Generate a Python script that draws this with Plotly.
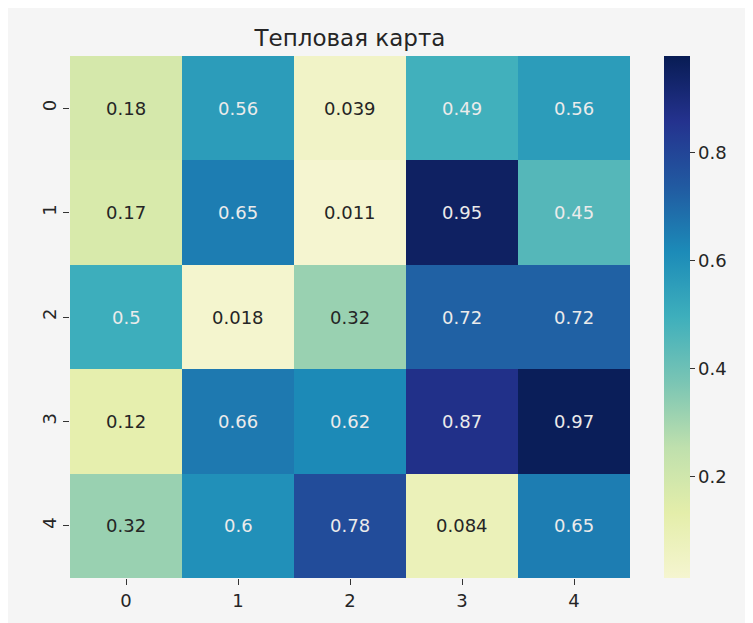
import plotly.graph_objects as go
import plotly.colors as pc

rows = ["0", "1", "2", "3", "4"]
cols = ["0", "1", "2", "3", "4"]
values = [
    [0.18, 0.56, 0.039, 0.49, 0.56],
    [0.17, 0.65, 0.011, 0.95, 0.45],
    [0.50, 0.018, 0.32, 0.72, 0.72],
    [0.12, 0.66, 0.62, 0.87, 0.97],
    [0.32, 0.60, 0.78, 0.084, 0.65],
]
title = "Тепловая карта"
cbar_ticks = [0.2, 0.4, 0.6, 0.8]

W, H = 745, 615
ml, mt = 62, 48
pw, ph = 560, 522
mr, mb = W - ml - pw, H - mt - ph

font = "DejaVu Sans"
txtc = "#252525"
fs = 18

# YlGnBu, slightly dimmed like the reference image
dim = 0.96
base = pc.sequential.YlGnBu
cs = []
for k, c in enumerate(base):
    r, g, b = pc.unlabel_rgb(c)
    cs.append([k / (len(base) - 1),
               f"rgb({round(r*dim)},{round(g*dim)},{round(b*dim)})"])

fig = go.Figure()
fig.add_trace(go.Heatmap(
    z=values, x=list(range(len(cols))), y=list(range(len(rows))),
    colorscale=cs, zmin=0.011, zmax=0.98,
    xgap=0, ygap=0, hoverinfo="skip",
    colorbar=dict(
        x=(656 - ml) / pw, xanchor="left", xpad=0, ypad=0,
        y=0.5, yanchor="middle", len=1.0, lenmode="fraction",
        thickness=26, outlinewidth=0,
        tickvals=cbar_ticks, ticktext=[f"{t:.1f}" for t in cbar_ticks],
        ticks="outside", ticklen=5, tickwidth=1.2, tickcolor="#333",
        tickfont=dict(family=font, size=fs, color=txtc),
    ),
))

for i, r in enumerate(values):
    for j, v in enumerate(r):
        fig.add_annotation(
            x=j, y=i, text=f"{v:.2g}", showarrow=False,
            font=dict(family=font, size=fs,
                      color="#ebebeb" if v > 0.4 else txtc),
        )

fig.update_layout(
    width=W, height=H,
    margin=dict(l=ml, r=mr, t=mt, b=mb, pad=0),
    paper_bgcolor="#f5f5f5", plot_bgcolor="#f5f5f5",
    title=dict(text=title, x=0.5, xref="paper", xanchor="center",
               y=1 - 30 / H, yanchor="middle",
               font=dict(family=font, size=23, color=txtc)),
    xaxis=dict(tickvals=list(range(len(cols))), ticktext=cols,
               range=[-0.5, len(cols) - 0.5],
               showgrid=False, zeroline=False, showline=False,
               ticks="outside", ticklen=6, tickwidth=1.2, tickcolor="#333",
               tickfont=dict(family=font, size=fs, color=txtc)),
    yaxis=dict(tickvals=list(range(len(rows))), ticktext=rows,
               range=[len(rows) - 0.5, -0.5],
               showgrid=False, zeroline=False, showline=False,
               ticks="outside", ticklen=6, tickwidth=1.2, tickcolor="#333",
               tickangle=-90,
               tickfont=dict(family=font, size=fs, color=txtc)),
)

fig.write_html("out.html")
